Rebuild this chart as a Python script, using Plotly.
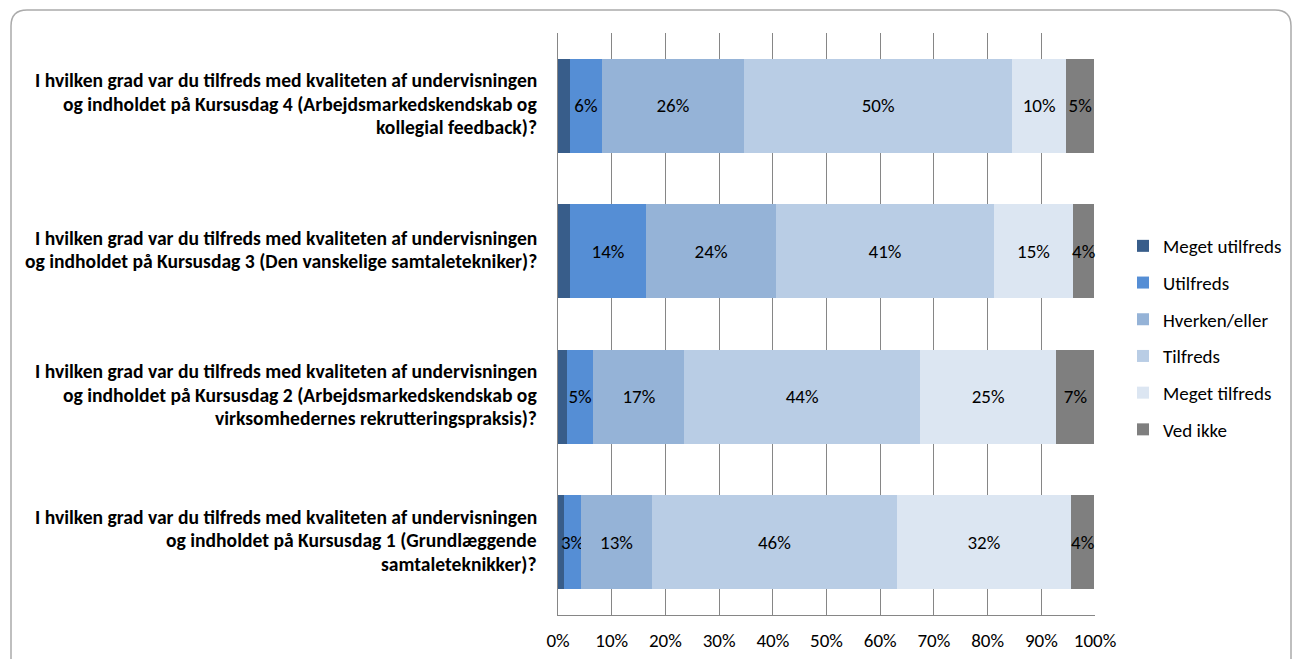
import plotly.graph_objects as go

# Survey questions, listed top to bottom as shown
questions = [
    "I hvilken grad var du tilfreds med kvaliteten af undervisningen|og indholdet på Kursusdag 4 (Arbejdsmarkedskendskab og|kollegial feedback)?",
    "I hvilken grad var du tilfreds med kvaliteten af undervisningen|og indholdet på Kursusdag 3 (Den vanskelige samtaletekniker)?",
    "I hvilken grad var du tilfreds med kvaliteten af undervisningen|og indholdet på Kursusdag 2 (Arbejdsmarkedskendskab og|virksomhedernes rekrutteringspraksis)?",
    "I hvilken grad var du tilfreds med kvaliteten af undervisningen|og indholdet på Kursusdag 1 (Grundlæggende|samtaleteknikker)?",
]
short_ids = ["Kursusdag 4", "Kursusdag 3", "Kursusdag 2", "Kursusdag 1"]

# Answer shares in percent, one value per question (same order as above)
meget_utilfreds = [2.2, 2.2, 1.6, 1.1]
utilfreds = [6.0, 14.2, 5.0, 3.2]
hverken_eller = [26.4, 24.2, 16.9, 13.2]
tilfreds = [50.0, 40.6, 43.9, 45.6]
meget_tilfreds = [10.0, 14.7, 25.4, 32.4]
ved_ikke = [5.3, 4.0, 7.1, 4.4]

series = [
    ("Meget utilfreds", meget_utilfreds, "#385D8A", False),
    ("Utilfreds", utilfreds, "#558ED5", True),
    ("Hverken/eller", hverken_eller, "#95B3D7", True),
    ("Tilfreds", tilfreds, "#B9CDE5", True),
    ("Meget tilfreds", meget_tilfreds, "#DCE6F2", True),
    ("Ved ikke", ved_ikke, "#7F7F7F", True),
]

x_ticks = list(range(0, 101, 10))

FONT = "Carlito, Lato, 'Liberation Sans', sans-serif"
FS = 19
W, H = 1294, 659
L, R, T, B = 558, 199, 33, 44

fig = go.Figure()
for name, vals, color, show_label in series:
    fig.add_trace(go.Bar(
        name=name,
        y=short_ids,
        x=vals,
        orientation="h",
        marker=dict(color=color, line=dict(width=0)),
        text=[f"{v:.0f}%" if show_label else "" for v in vals],
        textposition="inside",
        insidetextanchor="middle",
        textangle=0,
        constraintext="none",
        textfont=dict(family=FONT, size=FS, color="#000000"),
        hoverinfo="skip",
        legendgroup=name,
        cliponaxis=False,
    ))

# Question texts drawn line by line to the left of the axis
line_step = 23.5
for qid, q in zip(short_ids, questions):
    lines = q.split("|")
    n = len(lines)
    for i, ln in enumerate(lines):
        offset = ((n - 1) / 2 - i) * line_step + 2
        fig.add_annotation(
            x=0, xref="paper", xanchor="right", xshift=-19,
            y=qid, yref="y", yanchor="middle", yshift=offset,
            text=f"<b>{ln}</b>", showarrow=False,
            font=dict(family=FONT, size=19.6, color="#000000"),
        )

# Rounded frame around the whole chart (pixel coordinates -> paper)
pw, ph = W - L - R, H - T - B


def px(x):
    return (x - L) / pw


def py(y):
    return (H - B - y) / ph


x0, x1, y0, y1, r = 11, 1291, 10, 690, 16
path = (
    f"M {px(x0 + r)} {py(y0)} L {px(x1 - r)} {py(y0)} "
    f"Q {px(x1)} {py(y0)} {px(x1)} {py(y0 + r)} "
    f"L {px(x1)} {py(y1 - r)} Q {px(x1)} {py(y1)} {px(x1 - r)} {py(y1)} "
    f"L {px(x0 + r)} {py(y1)} Q {px(x0)} {py(y1)} {px(x0)} {py(y1 - r)} "
    f"L {px(x0)} {py(y0 + r)} Q {px(x0)} {py(y0)} {px(x0 + r)} {py(y0)} Z"
)
fig.add_shape(type="path", path=path, xref="paper", yref="paper",
              line=dict(color="#ABABAB", width=1.5), layer="below")

fig.update_layout(
    width=W, height=H,
    margin=dict(l=L, r=R, t=T, b=B, autoexpand=False),
    barmode="stack",
    bargap=0.355,
    paper_bgcolor="#FFFFFF",
    plot_bgcolor="#FFFFFF",
    font=dict(family=FONT, size=FS, color="#000000"),
    legend=dict(
        x=px(1123), xanchor="left",
        y=py(227), yanchor="top",
        traceorder="grouped",
        tracegroupgap=9,
        font=dict(family=FONT, size=FS, color="#000000"),
        itemwidth=30,
        bgcolor="rgba(0,0,0,0)",
    ),
    xaxis=dict(
        range=[0, 100],
        tickvals=x_ticks,
        ticktext=[f"{v}%" for v in x_ticks],
        showgrid=True, gridcolor="#868686", gridwidth=1,
        zeroline=False,
        showline=True, linecolor="#868686", linewidth=1,
        ticks="", ticklabelstandoff=8,
        tickfont=dict(family=FONT, size=FS, color="#000000"),
        fixedrange=True,
    ),
    yaxis=dict(
        autorange="reversed",
        showticklabels=False,
        showgrid=False, zeroline=False,
        showline=True, linecolor="#868686", linewidth=1,
        ticks="",
        fixedrange=True,
    ),
)

fig.write_html("out.html")
